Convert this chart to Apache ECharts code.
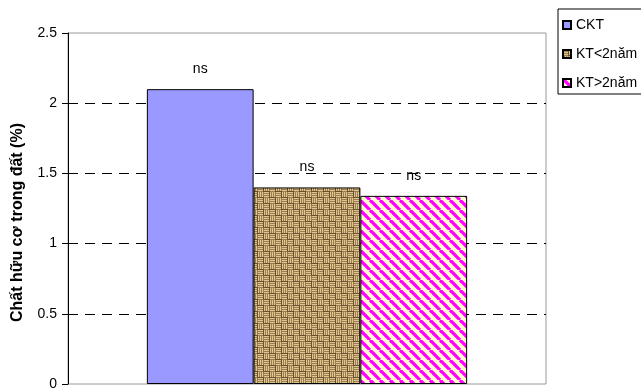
<!DOCTYPE html>
<html>
<head>
<meta charset="utf-8">
<script src="https://cdn.jsdelivr.net/npm/echarts@6/dist/echarts.min.js"></script>
<style>
  html, body { margin: 0; padding: 0; background: #fff; }
  #chart { width: 641px; height: 391px; }
</style>
</head>
<body>
<div id="chart"></div>
<script>
const categories = [''];
const seriesNames = ['CKT', 'KT<2năm', 'KT>2năm'];
const values = [2.1, 1.4, 1.34];
const barLabels = ['ns', 'ns', 'ns'];
const yMin = 0, yMax = 2.5, yStep = 0.5;

// burlap / basket weave texture
function weave() {
  const c = document.createElement('canvas');
  c.width = 12; c.height = 12;
  const g = c.getContext('2d');
  g.fillStyle = '#6b4f2c';
  g.fillRect(0, 0, 12, 12);
  for (let bx = 0; bx < 2; bx++) {
    for (let by = 0; by < 2; by++) {
      const ox = bx * 6, oy = by * 6;
      const horiz = (bx + by) % 2 === 0;
      for (let k = 0; k < 3; k++) {
        g.fillStyle = '#dcc693';
        if (horiz) g.fillRect(ox, oy + k * 2, 5, 1);
        else g.fillRect(ox + k * 2, oy, 1, 5);
        g.fillStyle = '#9e7d4b';
        if (horiz) g.fillRect(ox, oy + k * 2 + 1, 5, 1);
        else g.fillRect(ox + k * 2 + 1, oy, 1, 5);
      }
    }
  }
  return { image: c, repeat: 'repeat' };
}

// diagonal magenta stripes
function stripes() {
  const c = document.createElement('canvas');
  c.width = 10; c.height = 10;
  const g = c.getContext('2d');
  g.fillStyle = '#ffffcc';
  g.fillRect(0, 0, 10, 10);
  g.strokeStyle = '#ff00ff';
  g.lineWidth = 3.3;
  for (const x0 of [-10, 0, 10]) {
    g.beginPath();
    g.moveTo(x0, 0);
    g.lineTo(x0 + 10, 10);
    g.stroke();
  }
  return { image: c, repeat: 'repeat' };
}

const fills = ['#9999ff', weave(), stripes()];
const font = 'Liberation Sans, Arial, sans-serif';

const chart = echarts.init(document.getElementById('chart'));
chart.setOption({
  animation: false,
  textStyle: { fontFamily: font },
  grid: {
    left: 68, right: 95, top: 33, bottom: 5,
    show: true, borderColor: '#9a9a9a', borderWidth: 1, backgroundColor: '#fff'
  },
  legend: {
    orient: 'vertical',
    left: 558, top: 9,
    padding: [9, 12, 4, 4],
    itemGap: 15,
    itemWidth: 8, itemHeight: 8,
    borderColor: '#000', borderWidth: 1,
    icon: 'rect',
    textStyle: { fontSize: 14, color: '#000', fontFamily: font },
    data: seriesNames
  },
  xAxis: {
    type: 'category',
    data: categories,
    axisLine: { show: false },
    axisTick: { show: false },
    axisLabel: { show: false }
  },
  yAxis: {
    type: 'value',
    min: yMin, max: yMax, interval: yStep,
    name: 'Chất hữu cơ trong đất (%)',
    nameLocation: 'middle',
    nameGap: 42,
    nameTextStyle: {
      fontSize: 16, fontWeight: 'bold', color: '#000', fontFamily: font,
      padding: [0, 28, 0, 0]
    },
    axisLine: { show: true, lineStyle: { color: '#000', width: 1 } },
    axisTick: { show: true, length: 6, lineStyle: { color: '#000' } },
    axisLabel: { margin: 11, fontSize: 14, color: '#000', fontFamily: font },
    splitLine: {
      show: true,
      lineStyle: {
        color: ['transparent', '#000', '#000', '#000', '#000', 'transparent'],
        type: [10, 7], width: 1
      }
    }
  },
  series: seriesNames.map((n, i) => ({
    name: n,
    type: 'bar',
    barGap: '0%',
    barCategoryGap: '33%',
    data: [values[i]],
    itemStyle: { color: fills[i], borderColor: '#000', borderWidth: 1 },
    label: {
      show: true, position: 'top', distance: 13,
      formatter: barLabels[i],
      fontSize: 14, color: '#000', fontFamily: font
    }
  }))
});
</script>
</body>
</html>
